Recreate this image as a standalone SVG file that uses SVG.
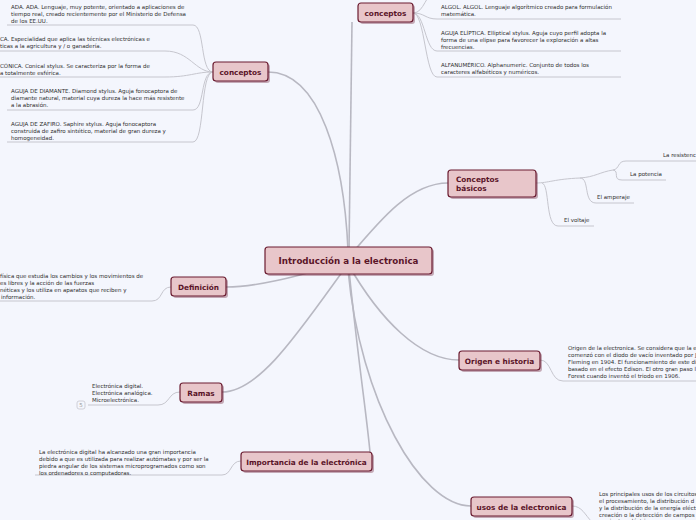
<svg xmlns="http://www.w3.org/2000/svg" width="696" height="520" viewBox="0 0 696 520">
<style>
.n rect.b{fill:#e8c6ca;stroke:#6a1b30;stroke-width:1.2}
.n rect.s{fill:#6a1b30;opacity:0.35}
.n text{font-family:"DejaVu Sans",Verdana,sans-serif;font-weight:bold;fill:#5a1428;font-size:7.3px}
.l{font-family:"DejaVu Sans",Verdana,sans-serif;font-size:5.5px;fill:#2e2e2e}
.c path{fill:none;stroke:#c6c6ce;stroke-width:1}
.c path.m{stroke:#b8b8c2;stroke-width:1.6}
</style>
<rect width="696" height="520" fill="#f4f6fd"/>
<g class="c">
<path class="m" d="M348,250 C344,160 320,72 268,72"/>
<path class="m" d="M349,250 C350,160 351,80 352,22"/>
<path class="m" d="M348,258 C380,220 410,183 448,183"/>
<path class="m" d="M348,262 C300,275 260,287 226,287"/>
<path class="m" d="M348,264 C380,320 420,360 459,360"/>
<path class="m" d="M348,264 C300,330 260,392 222,392"/>
<path class="m" d="M349,270 C358,360 366,410 370,452"/>
<path class="m" d="M348,270 C360,400 420,506 471,506"/>
<path d="M213,72 C200,72 205,25 193,25 L7,25"/>
<path d="M213,72 C195,72 190,51 165,51 L0,51"/>
<path d="M213,72 C195,72 190,77 165,77 L0,77"/>
<path d="M213,72 C200,72 205,110 193,110 L7,110"/>
<path d="M213,72 C200,72 205,142 193,142 L7,142"/>
<path d="M413,13 C425,13 425,-8 437,-8"/>
<path d="M413,13 C425,13 425,19 437,19 L621,19"/>
<path d="M413,13 C425,13 425,51 437,51 L621,51"/>
<path d="M413,13 C425,13 425,77 437,77 L621,77"/>
<path d="M536,183 C548,183 555,179 580,178 C595,177 600,172 613,170"/>
<path d="M613,170 C620,169 617,161 626,161 L696,161"/>
<path d="M613,170 C620,171 612,180 622,180 L666,180"/>
<path d="M580,178 C590,178 583,203 596,203 L634,203"/>
<path d="M542,183 C550,185 545,226 558,226 L594,226"/>
<path d="M540,360 C552,360 550,381 563,381 L696,381"/>
<path d="M572,506 C582,506 585,515 592,522"/>
<path d="M171,287 C160,287 163,301 152,301 L0,301"/>
<path d="M180,392 C168,392 170,405 158,405 L88,405"/>
<path d="M241,461 C230,461 232,475 222,475 L35,475"/>
</g>
<g id="center" class="n"><rect class="s" x="267" y="249" width="167" height="27" rx="3"/><rect class="b" x="265" y="247" width="167" height="27" rx="3"/><text x="348.5" y="264" text-anchor="middle" style="font-size:8.7px">Introducción a la electronica</text></g>
<g id="conceptos1" class="n"><rect class="s" x="215" y="64" width="55" height="19" rx="3"/><rect class="b" x="213" y="62" width="55" height="19" rx="3"/><text x="240.5" y="74.5" text-anchor="middle">conceptos</text></g>
<g id="conceptos2" class="n"><rect class="s" x="360" y="5" width="55" height="19" rx="3"/><rect class="b" x="358" y="3" width="55" height="19" rx="3"/><text x="385.5" y="15.5" text-anchor="middle">conceptos</text></g>
<g id="basicos" class="n"><rect class="s" x="450" y="172" width="88" height="27" rx="3"/><rect class="b" x="448" y="170" width="88" height="27" rx="3"/><text x="456" y="182">Conceptos</text><text x="456" y="191">básicos</text></g>
<g id="definicion" class="n"><rect class="s" x="173" y="279" width="55" height="19" rx="3"/><rect class="b" x="171" y="277" width="55" height="19" rx="3"/><text x="198.5" y="289.5" text-anchor="middle">Definición</text></g>
<g id="ramas" class="n"><rect class="s" x="182" y="385" width="42" height="19" rx="3"/><rect class="b" x="180" y="383" width="42" height="19" rx="3"/><text x="201" y="395.5" text-anchor="middle">Ramas</text></g>
<g id="importancia" class="n"><rect class="s" x="243" y="454" width="131" height="19" rx="3"/><rect class="b" x="241" y="452" width="131" height="19" rx="3"/><text x="306.5" y="464.5" text-anchor="middle">Importancia de la electrónica</text></g>
<g id="origen" class="n"><rect class="s" x="461" y="353" width="81" height="19" rx="3"/><rect class="b" x="459" y="351" width="81" height="19" rx="3"/><text x="499.5" y="363.5" text-anchor="middle">Origen e historia</text></g>
<g id="usos" class="n"><rect class="s" x="473" y="499" width="101" height="19" rx="3"/><rect class="b" x="471" y="497" width="101" height="19" rx="3"/><text x="521.5" y="509.5" text-anchor="middle">usos de la electronica</text></g>
<g id="leaves">
<text class="l" x="11" y="9">ADA. ADA. Lenguaje, muy potente, orientado a aplicaciones de</text>
<text class="l" x="11" y="16">tiempo real, creado recientemente por el Ministerio de Defensa</text>
<text class="l" x="11" y="23">de los EE.UU.</text>
<text class="l" x="0" y="41">CA. Especialidad que aplica las técnicas electrónicas e</text>
<text class="l" x="0" y="48">ticas a la agricultura y / o ganadería.</text>
<text class="l" x="0" y="68">CÓNICA. Conical stylus. Se caracteriza por la forma de</text>
<text class="l" x="0" y="75">a totalmente esférica.</text>
<text class="l" x="11" y="93">AGUJA DE DIAMANTE. Diamond stylus. Aguja fonocaptora de</text>
<text class="l" x="11" y="100">diamante natural, material cuya dureza la hace más resistente</text>
<text class="l" x="11" y="107">a la abrasión.</text>
<text class="l" x="11" y="126">AGUJA DE ZAFIRO. Saphire stylus. Aguja fonocaptora</text>
<text class="l" x="11" y="133">construida de zafiro sintético, material de gran dureza y</text>
<text class="l" x="11" y="140">homogeneidad.</text>
<text class="l" x="441" y="9">ALGOL. ALGOL. Lenguaje algorítmico creado para formulación</text>
<text class="l" x="441" y="16">matemática.</text>
<text class="l" x="441" y="35">AGUJA ELÍPTICA. Elliptical stylus. Aguja cuyo perfil adopta la</text>
<text class="l" x="441" y="42">forma de una elipse para favorecer la exploración a altas</text>
<text class="l" x="441" y="49">frecuencias.</text>
<text class="l" x="441" y="67">ALFANUMÉRICO. Alphanumeric. Conjunto de todos los</text>
<text class="l" x="441" y="74">caracteres alfabéticos y numéricos.</text>
<text class="l" x="663" y="157">La resistenc</text>
<text class="l" x="630" y="176">La potencia</text>
<text class="l" x="597" y="199">El amperaje</text>
<text class="l" x="564" y="222">El voltaje</text>
<text class="l" x="568" y="350">Origen de la electronica. Se considera que la e</text>
<text class="l" x="568" y="357">comenzó con el diodo de vacío inventado por J</text>
<text class="l" x="568" y="364">Fleming en 1904. El funcionamiento de este di</text>
<text class="l" x="568" y="371">basado en el efecto Edison. El otro gran paso l</text>
<text class="l" x="568" y="378">Forest cuando inventó el triodo en 1906.</text>
<text class="l" x="599" y="496">Los principales usos de los circuitos</text>
<text class="l" x="599" y="503">el procesamiento, la distribución d</text>
<text class="l" x="599" y="510">y la distribución de la energía eléct</text>
<text class="l" x="599" y="517">creación o la detección de campos</text>
<text class="l" x="599" y="523">corrientes eléctricas</text>
<text class="l" x="0" y="278">física que estudia los cambios y los movimientos de</text>
<text class="l" x="0" y="285">es libres y la acción de las fuerzas</text>
<text class="l" x="0" y="292">néticas y los utiliza en aparatos que reciben y</text>
<text class="l" x="1" y="299">información.</text>
<text class="l" x="92" y="388">Electrónica digital.</text>
<text class="l" x="92" y="395">Electrónica analógica.</text>
<text class="l" x="92" y="402">Microelectrónica.</text>
<rect x="77" y="401" width="8" height="8" rx="2" fill="none" stroke="#c6c6ce" stroke-width="0.8"/>
<text class="l" x="81" y="407" text-anchor="middle" style="fill:#999">5</text>
<text class="l" x="39" y="454">La electrónica digital ha alcanzado una gran importancia</text>
<text class="l" x="39" y="461">debido a que es utilizada para realizar autómatas y por ser la</text>
<text class="l" x="39" y="468">piedra angular de los sistemas microprogramados como son</text>
<text class="l" x="39" y="475">los ordenadores o computadoras.</text>
</g>
</svg>
